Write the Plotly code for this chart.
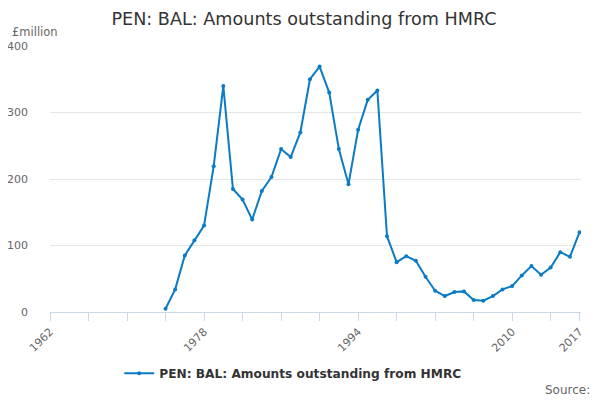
import plotly.graph_objects as go

# values (£million)
years = list(range(1974, 2018))
values = [5, 34, 85, 108, 130, 219, 340, 185, 169, 139,
          182, 203, 245, 233, 270, 350, 369, 330, 245, 192,
          274, 319, 333, 114, 75, 84, 77, 53, 32, 24,
          30, 31, 18, 17, 24, 34, 39, 55, 69, 56,
          67, 90, 83, 120]

tick_years = list(range(1962, 2015, 4)) + [2017]
tick_labels = [str(y) if y in (1962, 1978, 1994, 2010, 2017) else "" for y in tick_years]
y_ticks = [0, 100, 200, 300, 400]

title = "PEN: BAL: Amounts outstanding from HMRC"
blue = "#0a7bc4"
font = "DejaVu Sans"

fig = go.Figure()
fig.add_trace(go.Scatter(
    x=years, y=values, mode="lines+markers",
    name=title,
    line=dict(color=blue, width=2),
    marker=dict(color=blue, size=4),
))

# page body has an 8px margin, so the figure is 8px smaller each way
fig.update_layout(
    width=592, height=392,
    paper_bgcolor="white", plot_bgcolor="white",
    margin=dict(l=42, r=19, t=38, b=88, autoexpand=False),
    font=dict(family=font, color="#666666", size=11),
    title=dict(text=title, x=0.5, xanchor="center", y=0.973, yanchor="middle",
               font=dict(family=font, size=17.6, color="#333333")),
    showlegend=True,
    legend=dict(orientation="h", x=0.458, xanchor="center", y=-0.23, yanchor="middle",
                font=dict(family=font, size=12.2, color="#333333", weight="bold")),
    xaxis=dict(
        range=[1962, 2017.15], automargin=False,
        tickmode="array", tickvals=tick_years, ticktext=tick_labels,
        tickangle=-45, ticks="outside", ticklen=8, tickcolor="#ccd6eb",
        showline=True, linecolor="#ccd6eb", linewidth=1,
        showgrid=False, zeroline=False,
        tickfont=dict(size=11, color="#666666"),
    ),
    yaxis=dict(
        range=[0, 400], tickmode="array", tickvals=y_ticks, automargin=False,
        showgrid=True, gridcolor="#e6e6e6", zeroline=False,
        ticks="", ticklabelstandoff=21, tickfont=dict(size=11, color="#666666"),
    ),
    annotations=[
        dict(text="£million", xref="paper", yref="paper", x=-0.075, y=1.053,
             xanchor="left", yanchor="middle", showarrow=False,
             font=dict(family=font, size=11.5, color="#666666")),
        dict(text="Source:", xref="paper", yref="paper", x=1.02, y=-0.293,
             xanchor="right", yanchor="middle", showarrow=False,
             font=dict(family=font, size=12, color="#666666")),
    ],
)

fig.write_html("out.html")
